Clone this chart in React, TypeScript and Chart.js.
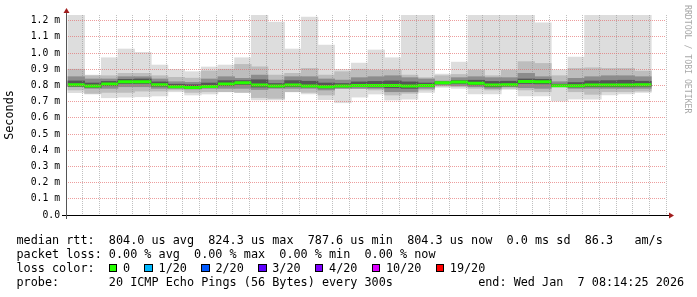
import { useEffect, useRef } from 'react';
import { Chart, registerables } from 'chart.js';

Chart.register(...registerables);

// ---- data (times are bar start times, each bar covers one 5 minute probe step) ----
const barStarts = [
  '05:15', '05:20', '05:25', '05:30', '05:35', '05:40', '05:45', '05:50', '05:55',
  '06:00', '06:05', '06:10', '06:15', '06:20', '06:25', '06:30', '06:35', '06:40', '06:45', '06:50', '06:55',
  '07:00', '07:05', '07:10', '07:15', '07:20', '07:25', '07:30', '07:35', '07:40', '07:45', '07:50', '07:55',
  '08:00', '08:05',
];
const stepMinutes = 5;
const rangeStart = '05:14:25';
const rangeEnd = '08:14:25';

// median rtt (ms)
const medianRtt = [
  0.804, 0.796, 0.809, 0.823, 0.823, 0.804, 0.792, 0.788, 0.794, 0.809,
  0.817, 0.802, 0.796, 0.802, 0.796, 0.792, 0.796, 0.800, 0.800, 0.800,
  0.796, 0.800, 0.817, 0.822, 0.813, 0.802, 0.804, 0.824, 0.823, 0.798,
  0.798, 0.802, 0.802, 0.802, 0.804,
];
// smoke: spread of the 20 pings (ms)
const smokeMax = [
  1.3, 0.864, 0.971, 1.025, 1.004, 0.926, 0.899, 0.885, 0.914, 0.926,
  0.971, 1.3, 1.191, 1.025, 1.222, 1.049, 0.899, 0.938, 1.019, 0.971,
  1.3, 1.3, 0.870, 0.944, 1.3, 1.3, 1.3, 1.3, 1.187, 0.897,
  0.975, 1.3, 1.3, 1.3, 1.3,
];
const smokeMin = [
  0.755, 0.747, 0.724, 0.728, 0.730, 0.735, 0.761, 0.741, 0.747, 0.767,
  0.757, 0.710, 0.710, 0.761, 0.747, 0.712, 0.693, 0.728, 0.747, 0.710,
  0.716, 0.757, 0.788, 0.782, 0.747, 0.747, 0.776, 0.735, 0.735, 0.704,
  0.716, 0.716, 0.741, 0.747, 0.757,
];
const smokeP90 = [
  0.90, 0.86, 0.86, 0.875, 0.875, 0.86, 0.85, 0.845, 0.89, 0.90,
  0.93, 0.915, 0.864, 0.875, 0.905, 0.864, 0.885, 0.90, 0.895, 0.895,
  0.864, 0.848, 0.86, 0.868, 0.895, 0.86, 0.895, 0.947, 0.936, 0.86,
  0.905, 0.909, 0.905, 0.905, 0.889,
];
const smokeP10 = [
  0.772, 0.751, 0.757, 0.757, 0.765, 0.765, 0.772, 0.757, 0.761, 0.761,
  0.757, 0.725, 0.72, 0.761, 0.757, 0.741, 0.782, 0.782, 0.772, 0.741,
  0.751, 0.772, 0.795, 0.792, 0.782, 0.772, 0.782, 0.772, 0.761, 0.792,
  0.761, 0.745, 0.761, 0.761, 0.765,
];
const smokeP75 = [
  0.854, 0.84, 0.84, 0.854, 0.854, 0.84, 0.823, 0.819, 0.84, 0.854,
  0.844, 0.864, 0.833, 0.854, 0.854, 0.84, 0.833, 0.848, 0.854, 0.86,
  0.848, 0.84, 0.827, 0.848, 0.854, 0.848, 0.848, 0.875, 0.854, 0.823,
  0.844, 0.854, 0.86, 0.86, 0.854,
];
const smokeP25 = [
  0.792, 0.782, 0.782, 0.792, 0.792, 0.782, 0.782, 0.778, 0.782, 0.782,
  0.782, 0.775, 0.782, 0.782, 0.782, 0.772, 0.782, 0.782, 0.782, 0.761,
  0.761, 0.782, 0.802, 0.798, 0.792, 0.782, 0.792, 0.786, 0.782, 0.792,
  0.782, 0.782, 0.782, 0.782, 0.782,
];
const smokeP60 = [
  0.828, 0.815, 0.825, 0.838, 0.84, 0.822, 0.808, 0.805, 0.815, 0.83,
  0.83, 0.835, 0.812, 0.83, 0.826, 0.815, 0.812, 0.822, 0.825, 0.828,
  0.822, 0.815, 0.822, 0.83, 0.832, 0.825, 0.826, 0.84, 0.838, 0.808,
  0.818, 0.828, 0.83, 0.832, 0.826,
];
const smokeP40 = [
  0.795, 0.788, 0.798, 0.812, 0.812, 0.795, 0.786, 0.782, 0.788, 0.798,
  0.806, 0.79, 0.788, 0.793, 0.79, 0.784, 0.79, 0.792, 0.79, 0.785,
  0.782, 0.792, 0.81, 0.812, 0.803, 0.792, 0.797, 0.812, 0.81, 0.794,
  0.79, 0.792, 0.792, 0.792, 0.795,
];

const xTickLabels = ['05:20', '05:40', '06:00', '06:20', '06:40', '07:00', '07:20', '07:40', '08:00'];
const yTickLabels = ['0.0', '0.1 m', '0.2 m', '0.3 m', '0.4 m', '0.5 m', '0.6 m', '0.7 m', '0.8 m', '0.9 m', '1.0 m', '1.1 m', '1.2 m'];
const yMax = 1.235;

const rttLine = 'median rtt:  804.0 us avg  824.3 us max  787.6 us min  804.3 us now  0.0 ms sd  86.3   am/s';
const lossLine = 'packet loss: 0.00 % avg  0.00 % max  0.00 % min  0.00 % now';
const lossLabels = ['0', '1/20', '2/20', '3/20', '4/20', '10/20', '19/20'];
const lossColors = ['#26ff00', '#00b8ff', '#0059ff', '#5e00ff', '#7e00ff', '#dd00ff', '#ff0000'];
const probeLine = 'probe:       20 ICMP Echo Pings (56 Bytes) every 300s            end: Wed Jan  7 08:14:25 2026';
const watermark = 'RRDTOOL / TOBI OETIKER';

// ---- helpers ----
const toMin = (s: string) => {
  const [h, m, sec] = s.split(':').map(Number);
  return h * 60 + m + (sec || 0) / 60;
};
const fmtMin = (v: number) => {
  const t = Math.round(v);
  const h = Math.floor(t / 60);
  const m = t % 60;
  return String(h).padStart(2, '0') + ':' + String(m).padStart(2, '0');
};

const MONO = '"DejaVu Sans Mono", monospace';
const MAJOR = 'rgba(228,105,105,0.65)';
const MINOR = 'rgba(140,140,140,0.55)';

const axesPlugin = {
  id: 'rrdAxes',
  afterDraw(chart: any) {
    const { ctx, chartArea } = chart;
    const { left, right, top, bottom } = chartArea;
    const yb = Math.round(bottom) + 0.5;
    const xl = Math.round(left) + 0.5;
    ctx.save();
    ctx.lineWidth = 1;
    ctx.strokeStyle = '#000';
    ctx.beginPath();
    ctx.moveTo(left - 4, yb);
    ctx.lineTo(right + 4, yb);
    ctx.stroke();
    ctx.strokeStyle = '#555';
    ctx.beginPath();
    ctx.moveTo(xl, bottom + 4);
    ctx.lineTo(xl, top - 3);
    ctx.stroke();
    ctx.fillStyle = '#a11d1d';
    ctx.beginPath();
    ctx.moveTo(xl - 3, top - 2);
    ctx.lineTo(xl + 3, top - 2);
    ctx.lineTo(xl, top - 7);
    ctx.closePath();
    ctx.fill();
    ctx.beginPath();
    ctx.moveTo(right + 3, yb - 3);
    ctx.lineTo(right + 3, yb + 3);
    ctx.lineTo(right + 8, yb);
    ctx.closePath();
    ctx.fill();
    ctx.restore();
  },
};

export default function App() {
  const ref = useRef<HTMLCanvasElement>(null);

  useEffect(() => {
    if (!ref.current) return;
    const centers = barStarts.map((s) => toMin(s) + stepMinutes / 2);
    const band = (lo: number[], hi: number[]) => centers.map((x, i) => ({ x, y: [lo[i], hi[i]] }));
    const medianPoints: any[] = [];
    barStarts.forEach((s, i) => {
      const x0 = toMin(s);
      medianPoints.push({ x: x0, y: medianRtt[i] }, { x: x0 + stepMinutes, y: medianRtt[i] }, { x: x0 + stepMinutes, y: null });
    });
    const barBase = {
      type: 'bar' as const,
      grouped: false,
      barPercentage: 1,
      categoryPercentage: 1,
      borderWidth: 0,
      clip: 0,
    };
    const chart = new Chart(ref.current, {
      type: 'bar',
      data: {
        datasets: [
          {
            type: 'line',
            label: 'median',
            data: medianPoints,
            borderColor: lossColors[0],
            backgroundColor: lossColors[0],
            borderWidth: 3,
            borderCapStyle: 'butt',
            pointRadius: 0,
            spanGaps: false,
            tension: 0,
            order: 0,
          } as any,
          { ...barBase, label: 'core', data: band(smokeP40, smokeP60), backgroundColor: '#555555', order: 1 } as any,
          { ...barBase, label: 'inner', data: band(smokeP25, smokeP75), backgroundColor: '#8c8c8c', order: 2 } as any,
          { ...barBase, label: 'mid', data: band(smokeP10, smokeP90), backgroundColor: '#bdbdbd', order: 3 } as any,
          { ...barBase, label: 'outer', data: band(smokeMin, smokeMax), backgroundColor: '#dddddd', order: 4 } as any,
        ],
      },
      options: {
        responsive: false,
        devicePixelRatio: 1,
        animation: false,
        events: [],
        layout: { padding: { top: 15, right: 31, bottom: 0, left: 0 } },
        plugins: { legend: { display: false }, tooltip: { enabled: false } },
        scales: {
          x: {
            type: 'linear',
            min: toMin(rangeStart),
            max: toMin(rangeEnd),
            offset: false,
            grid: {
              offset: false,
              z: 1,
              drawTicks: false,
              lineWidth: 1,
              color: (c: any) => (xTickLabels.includes(fmtMin(c.tick.value)) ? MAJOR : MINOR),
            },
            border: { display: false, dash: [1, 1] },
            ticks: {
              stepSize: stepMinutes,
              autoSkip: false,
              maxRotation: 0,
              minRotation: 0,
              includeBounds: false,
              padding: 4,
              color: '#000',
              font: { family: MONO, size: 9.75 },
              callback: (v: any) => (xTickLabels.includes(fmtMin(Number(v))) ? fmtMin(Number(v)) : ''),
            },
            afterFit: (s: any) => {
              s.height = 82;
            },
          } as any,
          y: {
            type: 'linear',
            min: 0,
            max: yMax,
            grid: { z: 1, drawTicks: false, lineWidth: 1, color: MAJOR },
            border: { display: false, dash: [1, 1] },
            ticks: {
              stepSize: 0.1,
              includeBounds: false,
              padding: 6,
              color: '#000',
              font: { family: MONO, size: 9.75 },
              callback: (v: any) => yTickLabels[Math.round(Number(v) * 10)] ?? '',
            },
            title: {
              display: true,
              text: 'Seconds',
              color: '#000',
              font: { family: MONO, size: 11.8 },
              padding: { top: 3, bottom: 0 },
            },
            afterFit: (s: any) => {
              s.width = 66;
            },
          } as any,
        },
      },
      plugins: [axesPlugin],
    } as any);
    return () => chart.destroy();
  }, []);

  const textStyle: any = {
    fontFamily: MONO,
    fontSize: '11.8px',
    lineHeight: '14.2px',
    whiteSpace: 'pre',
    color: '#000',
  };

  return (
    <div style={{ position: 'fixed', left: 0, top: 0, width: 697, height: 297, background: '#fff', overflow: 'hidden' }}>
      <canvas ref={ref} width={697} height={297} style={{ position: 'absolute', left: 0, top: 0, width: 697, height: 297 }} />
      <div style={{ position: 'absolute', left: 16.5, top: 232.8, ...textStyle }}>
        <div>{rttLine}</div>
        <div>{lossLine}</div>
        <div>
          {'loss color:  '}
          {lossLabels.map((l, i) => (
            <span key={l}>
              <span
                style={{
                  display: 'inline-block',
                  boxSizing: 'border-box',
                  width: '8.5px',
                  height: '8.5px',
                  border: '1px solid #000',
                  background: lossColors[i],
                  marginRight: 'calc(2ch - 8.5px)',
                }}
              />
              {l + (i < lossLabels.length - 1 ? '  ' : '')}
            </span>
          ))}
        </div>
        <div>{probeLine}</div>
      </div>
      <div
        style={{
          position: 'absolute',
          left: 683,
          top: 5,
          writingMode: 'vertical-rl',
          fontFamily: MONO,
          fontSize: '8.2px',
          color: '#a8a8a8',
          whiteSpace: 'pre',
        }}
      >
        {watermark}
      </div>
    </div>
  );
}
